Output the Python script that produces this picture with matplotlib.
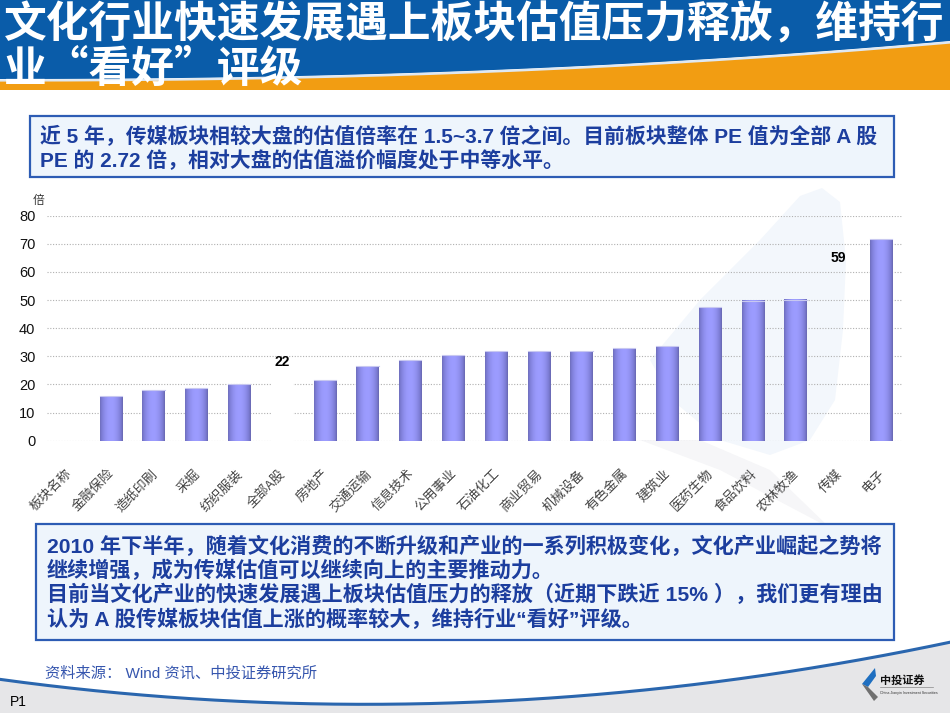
import numpy as np
import matplotlib.pyplot as plt
from matplotlib.patches import Rectangle, Polygon
from matplotlib.colors import LinearSegmentedColormap
from matplotlib.transforms import ScaledTranslation

plt.rcParams['font.family'] = ['Liberation Sans', 'Noto Sans CJK SC', 'DejaVu Sans']

# data
categories = ['板块名称', '金融保险', '造纸印刷', '采掘', '纺织服装', '全部A股', '房地产',
              '交通运输', '信息技术', '公用事业', '石油化工', '商业贸易', '机械设备',
              '有色金属', '建筑业', '医药生物', '食品饮料', '农林牧渔', '传媒', '电子']
pe_values = [0, 16.0, 18.0, 18.6, 20.0, 22, 21.6, 26.5, 28.7, 30.5, 31.9, 31.9, 31.9,
             32.8, 33.6, 47.4, 49.8, 50.2, 59, 71.6]
hidden_bars = {'全部A股': 'white', '传媒': 'none'}   # bars shown only by their label
y_ticks = [0, 10, 20, 30, 40, 50, 60, 70, 80]

title_lines = ['文化行业快速发展遇上板块估值压力释放，维持行', '业“看好”评级']
box1_lines = ['近 5 年，传媒板块相较大盘的估值倍率在 1.5~3.7 倍之间。目前板块整体 PE 值为全部 A 股',
              'PE 的 2.72 倍，相对大盘的估值溢价幅度处于中等水平。']
box2_lines = ['2010 年下半年，随着文化消费的不断升级和产业的一系列积极变化，文化产业崛起之势将',
              '继续增强，成为传媒估值可以继续向上的主要推动力。',
              '目前当文化产业的快速发展遇上板块估值压力的释放（近期下跌近 15% ），我们更有理由',
              '认为 A 股传媒板块估值上涨的概率较大，维持行业“看好”评级。']
source_text = '资料来源： Wind 资讯、中投证券研究所'

W, H = 950, 713
fig = plt.figure(figsize=(W / 100, H / 100), dpi=100)

# background layer in pixel coordinates
bg = fig.add_axes([0, 0, 1, 1], zorder=0)
bg.set_xlim(0, W)
bg.set_ylim(H, 0)
bg.axis('off')

# title band
xs = np.linspace(0, W, 200)
curve = 80 - 38 * (xs / W) ** 2.2
bg.add_patch(Polygon(np.column_stack([np.r_[xs, xs[::-1]], np.r_[np.full_like(xs, 90), curve[::-1]]]),
                     closed=True, fc='#f29d12', ec='none'))
bg.add_patch(Polygon(np.column_stack([np.r_[xs, xs[::-1]], np.r_[np.zeros_like(xs), curve[::-1] - 1]]),
                     closed=True, fc='#0a5ca9', ec='none'))
bg.plot(xs, curve + 0.5, color='#dfe8f2', lw=1.6)
bg.text(4, 24, title_lines[0], color='white', fontsize=30.8, fontweight='bold',
        family=['Noto Sans CJK SC'], va='center', ha='left')
bg.text(4, 69, title_lines[1], color='white', fontsize=30.8, fontweight='bold',
        family=['Noto Sans CJK SC'], va='center', ha='left')

# faint watermark behind chart
bg.add_patch(Polygon([(650, 360), (700, 300), (760, 240), (800, 196), (822, 188), (840, 202),
                      (846, 260), (843, 330), (835, 400), (810, 440), (770, 455), (720, 440),
                      (672, 400)], closed=True, fc='#f3f7fc', ec='none'))
bg.add_patch(Polygon([(640, 440), (720, 470), (830, 528), (770, 470), (700, 440)],
                     closed=True, fc='#f6f6f8', ec='none'))

# text boxes
text_color = '#1c3e9e'
bg.add_patch(Rectangle((30, 116), 864, 61, fc='#eef5fc', ec='#2d5cb4', lw=1.6))
for k, line in enumerate(box1_lines):
    bg.text(40, 137 + 24 * k, line, color=text_color, fontsize=15.0, fontweight='bold',
            va='center', ha='left')
bg.add_patch(Rectangle((36, 524), 858, 116, fc='#eef5fc', ec='#2d5cb4', lw=1.6))
for k, line in enumerate(box2_lines):
    bg.text(47, 546 + 24.3 * k, line, color=text_color, fontsize=15.2, fontweight='bold',
            va='center', ha='left')

bg.text(45, 674, source_text, color='#3656ae', fontsize=11, va='center', ha='left')

# bottom swoosh
px = [0, 160, 460, 650, 800, 950]
py = [680, 695, 704, 690, 668, 643]
coef = np.polyfit(px, py, 3)
bx = np.linspace(0, W, 200)
by = np.polyval(coef, bx)
bg.add_patch(Polygon(np.column_stack([np.r_[bx, W, 0], np.r_[by, H, H]]),
                     closed=True, fc='#e6e6e8', ec='none'))
bg.plot(bx, by, color='#2a66ae', lw=2.2)
bg.text(10, 702, 'P1', color='black', fontsize=10, va='center', ha='left')

# logo
bg.add_patch(Polygon([(875, 668), (862, 684), (868, 687), (876, 676)], closed=True, fc='#1f6fc0', ec='none'))
bg.add_patch(Polygon([(862, 684), (874, 701), (878, 697), (868, 687)], closed=True, fc='#707070', ec='none'))
bg.text(880, 680, '中投证券', family=['Noto Sans CJK SC'], fontsize=8, fontweight='bold',
        color='#111111', va='center', ha='left')
bg.plot([880, 933], [687, 687], color='#888888', lw=0.5)
bg.text(880, 693, 'China Jianyin Investment Securities', fontsize=2.6, color='#333333',
        va='center', ha='left')

# chart
ax = fig.add_axes([46.6 / W, 1 - 440.7 / H, (902.4 - 46.6) / W, (440.7 - 215.7) / H], zorder=1)
ax.set_facecolor('none')
n = len(categories)

t = np.linspace(0, 1, 64)
profile = np.clip(np.sin(np.pi * (0.08 + 0.86 * t)) ** 0.8, 0, 1)[None, :]
bar_cmap = LinearSegmentedColormap.from_list('cyl', ['#52528a', '#7c7cd4', '#9c9cff'])
bar_w = 0.52

for i, (cat, v) in enumerate(zip(categories, pe_values)):
    if cat in hidden_bars:
        ax.bar(i, v, width=bar_w, color=hidden_bars[cat], zorder=3)
        ax.annotate(f'{v:g}', (i, v), xytext=(0, 7), textcoords='offset points',
                    ha='center', va='bottom', fontsize=10, fontweight='bold',
                    family=['Liberation Sans Narrow', 'Liberation Sans'])
    elif v > 0:
        ax.imshow(profile, extent=(i - bar_w / 2, i + bar_w / 2, 0, v), aspect='auto',
                  cmap=bar_cmap, vmin=0, vmax=1, zorder=3, interpolation='bilinear')
        ax.plot([i - bar_w / 2, i + bar_w / 2], [v, v], color='#c8c8f0', lw=0.8, zorder=4)

ax.set_xlim(-0.5, n - 0.5)
ax.set_ylim(0, 80)
ax.set_yticks(y_ticks)
ax.yaxis.grid(True, color='#b0b0b0', ls=(0, (1, 1.5)), lw=0.8, zorder=1)
ax.set_axisbelow(True)
for s in ax.spines.values():
    s.set_visible(False)
ax.tick_params(axis='y', length=0, pad=8, labelsize=10.5, labelcolor='#111111')
for lab in ax.get_yticklabels():
    lab.set_family(['Liberation Sans Narrow', 'Liberation Sans'])

ax.set_xticks(range(n))
ax.set_xticklabels(categories, rotation=45, ha='right', va='top', rotation_mode='anchor',
                   fontsize=9.5, color='#444444', family=['Noto Sans CJK SC', 'DejaVu Sans'])
ax.tick_params(axis='x', length=0, pad=19)
shift = ScaledTranslation(-3 / 100, 0, fig.dpi_scale_trans)
for lab in ax.get_xticklabels():
    lab.set_transform(lab.get_transform() + shift)

ax.text(-0.55, 85.5, '倍', ha='right', va='center', fontsize=8.5, color='#333333',
        family=['Noto Sans CJK SC'])

fig.savefig('out.png', dpi=100)
